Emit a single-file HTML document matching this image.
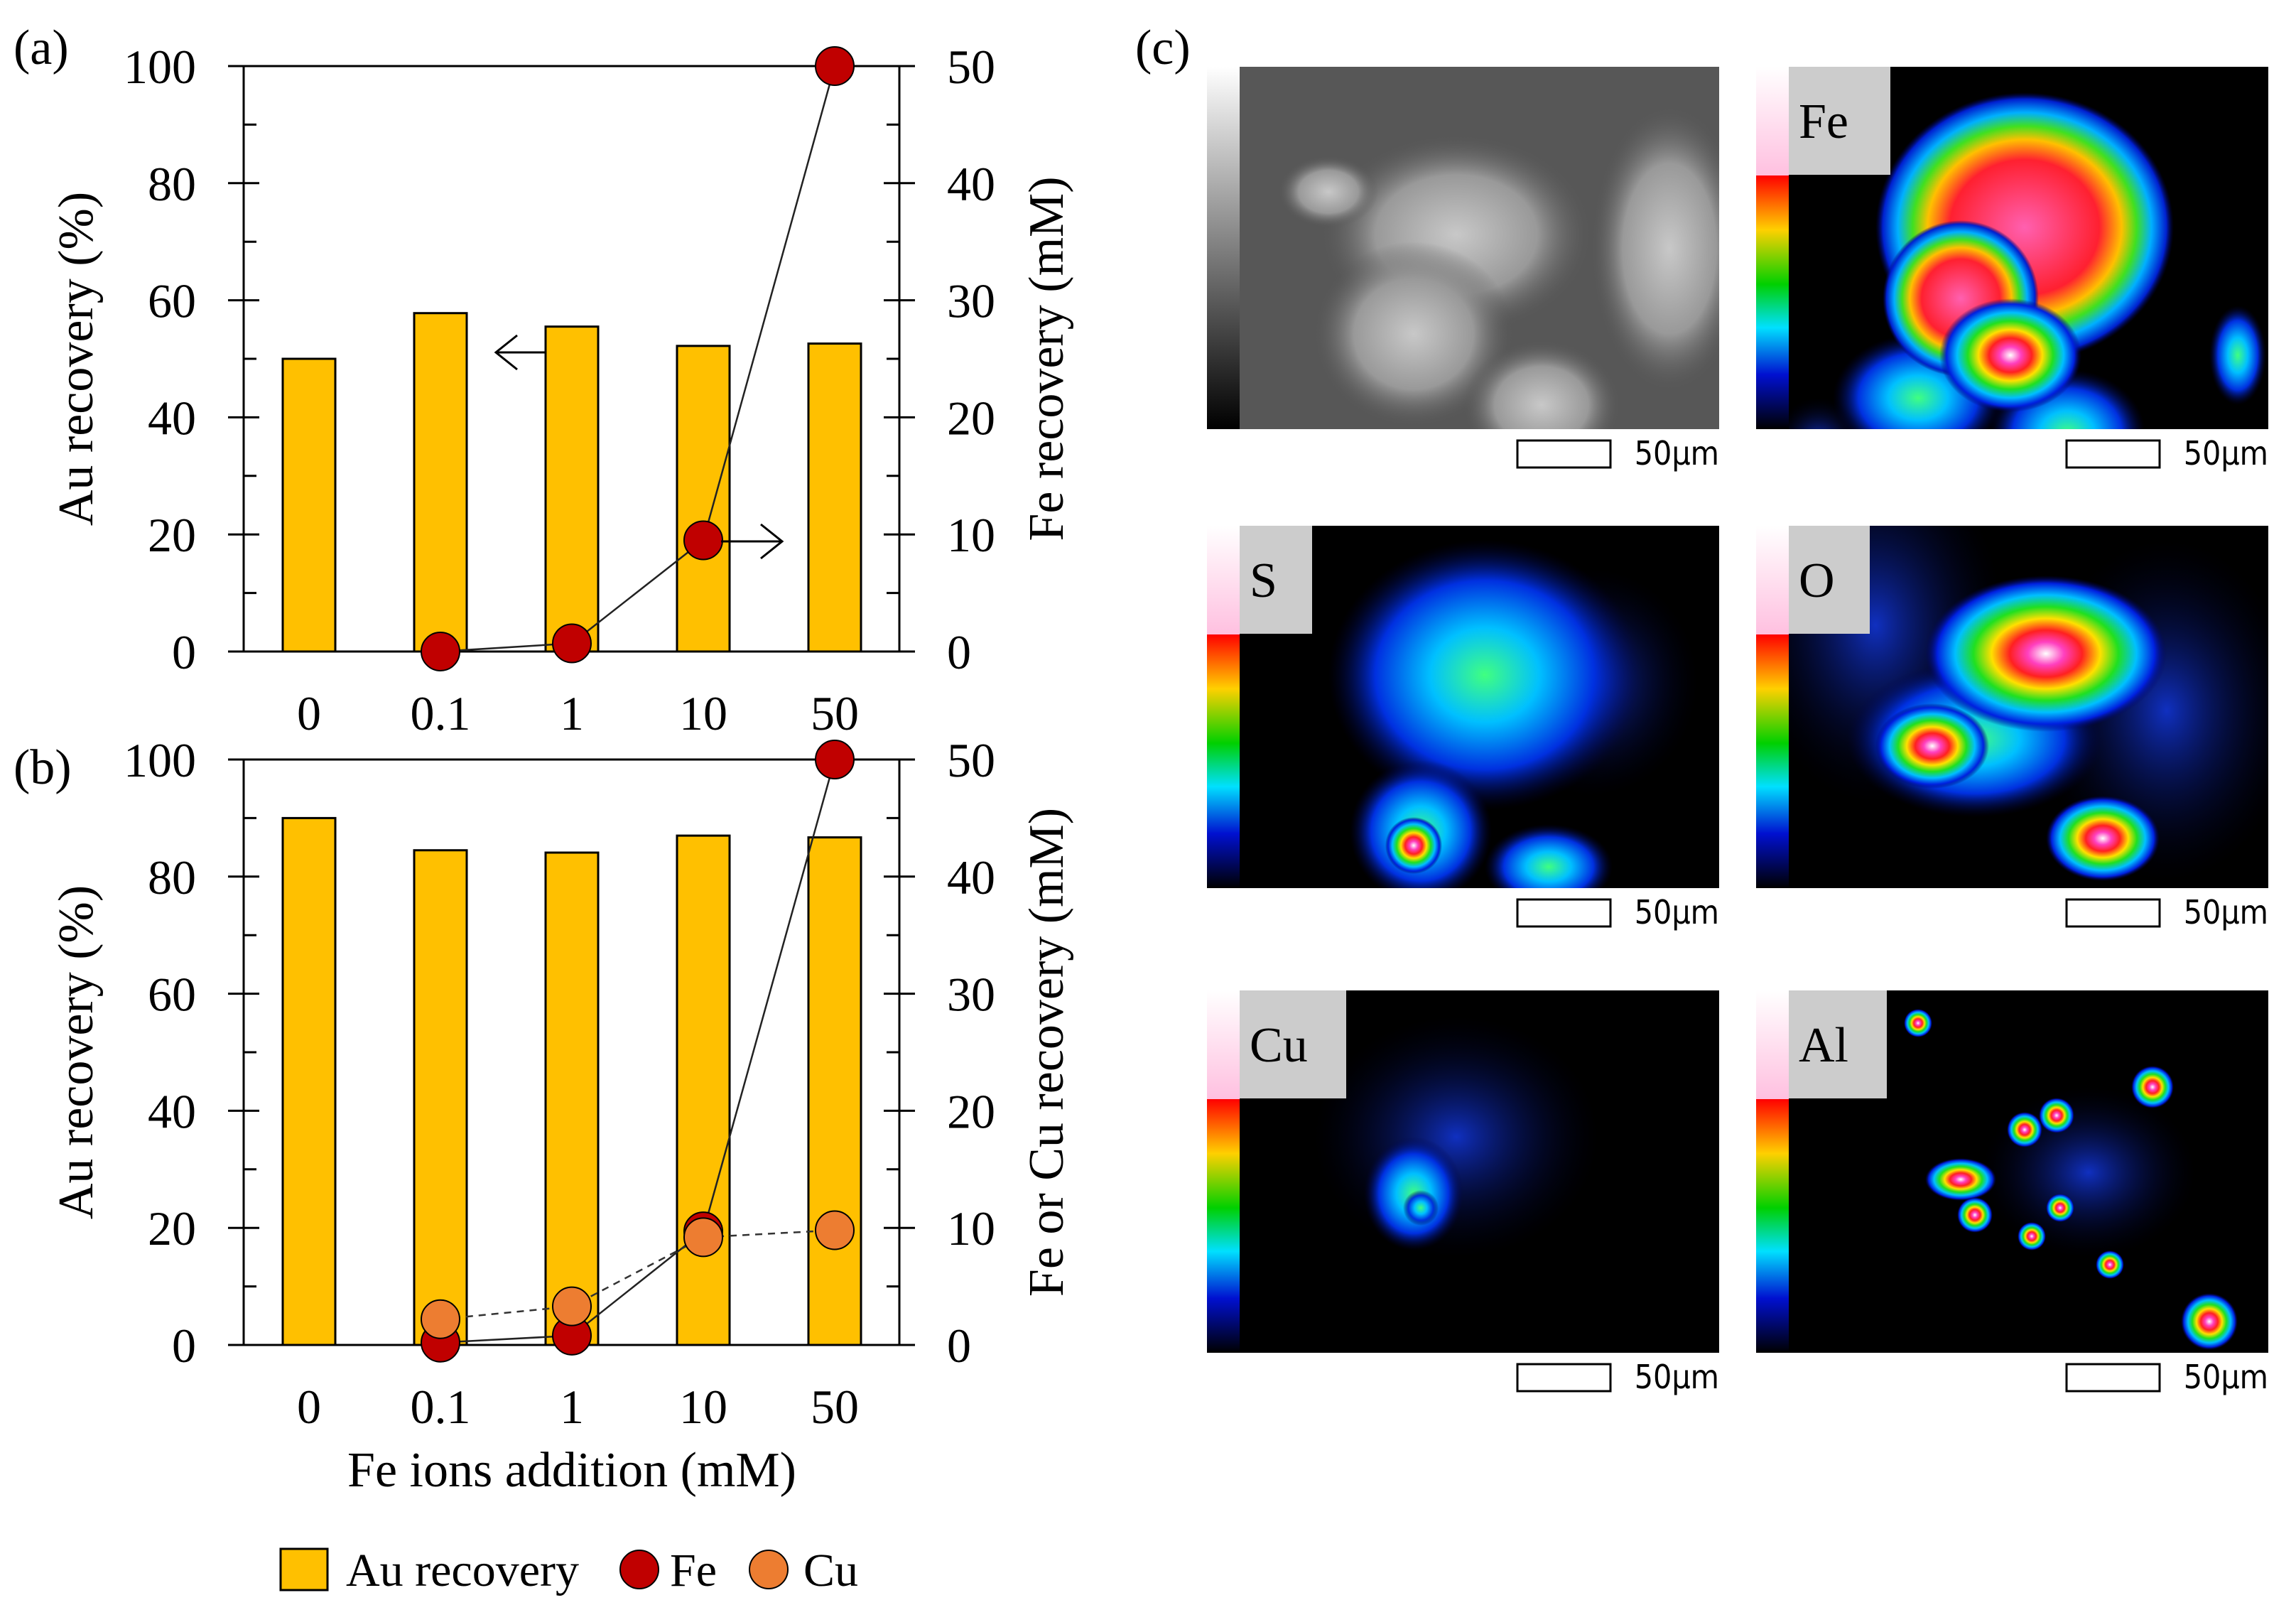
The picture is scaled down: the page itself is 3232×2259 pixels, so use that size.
<!DOCTYPE html>
<html><head><meta charset="utf-8"><style>
html,body{margin:0;padding:0;background:#fff}
#root{position:relative;width:3232px;height:2259px;overflow:hidden;background:#fff}
svg text{font-family:"Liberation Serif",serif}
</style></head><body>
<div id="root">
<svg id="chart" width="3232" height="2259" viewBox="0 0 3232 2259" xmlns="http://www.w3.org/2000/svg">
<defs>
<radialGradient id="jet">
<stop offset="0" stop-color="#ffffff"/><stop offset="0.15" stop-color="#ff40c0"/><stop offset="0.3" stop-color="#ff2020"/><stop offset="0.45" stop-color="#ffe000"/><stop offset="0.6" stop-color="#20e020"/><stop offset="0.75" stop-color="#00c0ff"/><stop offset="0.9" stop-color="#0020e0"/><stop offset="1" stop-color="#000060" stop-opacity="0"/>
</radialGradient>
<radialGradient id="jethot">
<stop offset="0" stop-color="#ff60b0"/><stop offset="0.5" stop-color="#ff2030"/><stop offset="0.65" stop-color="#ffc000"/><stop offset="0.75" stop-color="#40e020"/><stop offset="0.85" stop-color="#00b0ff"/><stop offset="0.95" stop-color="#0020d0"/><stop offset="1" stop-color="#000060" stop-opacity="0"/>
</radialGradient>
<radialGradient id="jetlow">
<stop offset="0" stop-color="#40ff80"/><stop offset="0.35" stop-color="#00c0ff"/><stop offset="0.7" stop-color="#0030e0"/><stop offset="1" stop-color="#000040" stop-opacity="0"/>
</radialGradient>
<radialGradient id="bluehaze">
<stop offset="0" stop-color="#1030c0"/><stop offset="1" stop-color="#000020" stop-opacity="0"/>
</radialGradient>
<radialGradient id="sem">
<stop offset="0" stop-color="#c8c8c8"/><stop offset="0.6" stop-color="#999"/><stop offset="1" stop-color="#5a5a5a" stop-opacity="0"/>
</radialGradient>
<linearGradient id="graybar" x1="0" y1="0" x2="0" y2="1"><stop offset="0" stop-color="#fff"/><stop offset="1" stop-color="#000"/></linearGradient>
<linearGradient id="jetbar" x1="0" y1="0" x2="0" y2="1">
<stop offset="0" stop-color="#fff"/><stop offset="0.3" stop-color="#ffc0e0"/><stop offset="0.3" stop-color="#ff0000"/><stop offset="0.45" stop-color="#ffd000"/><stop offset="0.6" stop-color="#00d000"/><stop offset="0.72" stop-color="#00e0ff"/><stop offset="0.85" stop-color="#0010d0"/><stop offset="1" stop-color="#000"/>
</linearGradient>
</defs>
<g id="panelA"></g>
<g id="panelB"></g>
<g id="legend">
<rect x="395" y="2180" width="66" height="58" fill="#ffc000" stroke="#000" stroke-width="3"/>
<text x="487" y="2232" font-size="66">Au recovery</text>
<circle cx="900" cy="2209" r="27" fill="#c00000" stroke="#000" stroke-width="2"/>
<text x="943" y="2232" font-size="66">Fe</text>
<circle cx="1082" cy="2209" r="27" fill="#ed7d31" stroke="#000" stroke-width="2"/>
<text x="1131" y="2232" font-size="66">Cu</text>
</g>
<text x="19" y="90" font-size="70">(a)</text>
<text x="19" y="1103" font-size="70">(b)</text>
<text x="1598" y="90" font-size="70">(c)</text>
<g id="panelC"></g>
</svg>
</div>
<script>
// ---- data ----
const categories = ["0", "0.1", "1", "10", "50"];
const leftTicks = [0, 20, 40, 60, 80, 100];
const rightTicks = [0, 10, 20, 30, 40, 50];
const auA = [50, 57.8, 55.5, 52.2, 52.6];
const feA = [null, 0, 0.7, 9.5, 50];
const auB = [90, 84.5, 84.1, 87.0, 86.7];
const feB = [null, 0.2, 0.8, 9.7, 50];
const cuB = [null, 2.2, 3.3, 9.2, 9.8];

const NS = "http://www.w3.org/2000/svg";
function mk(parent, tag, attrs, txt) {
  const e = document.createElementNS(NS, tag);
  for (const k in attrs) e.setAttribute(k, attrs[k]);
  if (txt !== undefined) e.textContent = txt;
  parent.appendChild(e);
  return e;
}
const L = 343, R = 1266, x0 = 435;
function xPos(i) { return x0 + i * 185; }

function drawPanel(g, top, bottom, au, fe, cu, rightTitle) {
  const yL = v => bottom - (v / 100) * (bottom - top);
  const yR = v => bottom - (v / 50) * (bottom - top);
  au.forEach((v, i) => {
    const r = mk(g, "rect", {x: xPos(i) - 37, y: yL(v), width: 74, height: bottom - yL(v), fill: "#ffc000", stroke: "#000", "stroke-width": 3});
    
    
  });
  const fr = mk(g, "path", {d: `M${L} ${top}V${bottom}M${R} ${top}V${bottom}M${L - 22} ${top}H${R + 22}M${L - 22} ${bottom}H${R + 22}`, stroke: "#000", "stroke-width": 3, fill: "none"});
  
  
  leftTicks.forEach(v => {
    const y = yL(v);
    const t = mk(g, "line", {x1: L - 22, x2: L + 22, y1: y, y2: y, stroke: "#000", "stroke-width": 3});
    
    
    const lb = mk(g, "text", {x: 276, y: y + 24, "font-size": 68, "text-anchor": "end"}, String(v));
    
    
    if (v < 100) {
      const ym = yL(v + 10);
      mk(g, "line", {x1: L, x2: L + 18, y1: ym, y2: ym, stroke: "#000", "stroke-width": 3});
      mk(g, "line", {x1: R - 18, x2: R, y1: ym, y2: ym, stroke: "#000", "stroke-width": 3});
    }
  });
  rightTicks.forEach(v => {
    const y = yR(v);
    const t = mk(g, "line", {x1: R - 22, x2: R + 22, y1: y, y2: y, stroke: "#000", "stroke-width": 3});
    
    
    const lb = mk(g, "text", {x: 1333, y: y + 24, "font-size": 68}, String(v));
    
    
  });
  categories.forEach((c, i) => {
    const lb = mk(g, "text", {x: xPos(i), y: bottom + 110, "font-size": 68, "text-anchor": "middle"}, c);
    
    
  });
  const midY = (top + bottom) / 2;
  const lt = mk(g, "text", {x: 0, y: 0, "font-size": 70, "text-anchor": "middle", transform: `translate(130 ${midY}) rotate(-90)`}, "Au recovery (%)");
  
  
  const rt = mk(g, "text", {x: 0, y: 0, "font-size": 70, "text-anchor": "middle", transform: `translate(1496 ${midY}) rotate(-90)`}, rightTitle);
  
  
  function series(vals, color, dash, name) {
    const pts = [];
    vals.forEach((v, i) => { if (v !== null) pts.push([xPos(i), yR(v)]); });
    const ln = mk(g, "polyline", {points: pts.map(p => p.join(",")).join(" "), fill: "none", stroke: dash ? "#333" : "#222", "stroke-width": 2.5, "stroke-dasharray": dash ? "10 8" : "none"});
    
    
    pts.forEach(p => {
      const c = mk(g, "circle", {cx: p[0], cy: p[1], r: 27, fill: color, stroke: "#000", "stroke-width": 2});
      
      
    });
  }
  series(fe, "#c00000", false, "fe");
  if (cu) series(cu, "#ed7d31", true, "cu");
}
drawPanel(document.getElementById("panelA"), 93, 917, auA, feA, null, "Fe recovery (mM)");
drawPanel(document.getElementById("panelB"), 1069, 1893, auB, feB, cuB, "Fe or Cu recovery (mM)");
const gb = document.getElementById("panelB");
const xt = mk(gb, "text", {x: 805, y: 2092, "font-size": 70, "text-anchor": "middle"}, "Fe ions addition (mM)");


const ga = document.getElementById("panelA");
const a1 = mk(ga, "path", {d: "M768 496H698M728 472L698 496L728 520", stroke: "#000", "stroke-width": 3, fill: "none"});


const a2 = mk(ga, "path", {d: "M1015 762H1101M1071 738L1101 762L1071 786", stroke: "#000", "stroke-width": 3, fill: "none"});



// ---- panel c maps ----
const gc = document.getElementById("panelC");
const cols = [1699, 2472];
const rows = [94, 740, 1394];
const maps = [
  {name: "sem", label: null, bw: 0},
  {name: "fe", label: "Fe", bw: 143, blobs: [[2700,560,120,90,"jetlow"],[2910,610,110,90,"jetlow"],[3150,500,40,70,"jetlow"],[2560,620,60,60,"bluehaze"],[2850,320,210,190,"jethot"],[2760,420,110,110,"jethot"],[2830,500,100,80,"jet"]]},
  {name: "s", label: "S", bw: 102, blobs: [[2240,960,150,160,"bluehaze"],[2090,950,220,190,"jetlow"],[2000,1170,100,100,"jetlow"],[1990,1190,40,40,"jet"],[2180,1220,90,60,"jetlow"]]},
  {name: "o", label: "O", bw: 114, blobs: [[3050,1000,180,240,"bluehaze"],[2640,880,180,250,"bluehaze"],[2780,1040,180,110,"jetlow"],[2880,920,170,110,"jet"],[2720,1050,80,60,"jet"],[2960,1180,80,60,"jet"]]},
  {name: "cu", label: "Cu", bw: 150, blobs: [[2050,1600,200,170,"bluehaze"],[1990,1680,70,80,"jetlow"],[2000,1700,25,25,"jetlow"]]},
  {name: "al", label: "Al", bw: 138, blobs: [[2940,1650,150,120,"bluehaze"],[3030,1530,30,30,"jet"],[2760,1660,50,30,"jet"],[2850,1590,25,25,"jet"],[2895,1570,25,25,"jet"],[2780,1710,25,25,"jet"],[2860,1740,20,20,"jet"],[2900,1700,20,20,"jet"],[2970,1780,20,20,"jet"],[3110,1860,40,40,"jet"],[2700,1440,20,20,"jet"]]}
];
maps.forEach((m, k) => {
  const cx = cols[k % 2], cy = rows[Math.floor(k / 2)];
  const iw = cx + 46, ih = 510, w = 675;
  const g = mk(gc, "g", {});
  
  
  mk(g, "rect", {x: cx, y: cy, width: 46, height: ih, fill: m.label ? "url(#jetbar)" : "url(#graybar)"});
  mk(g, "rect", {x: iw, y: cy, width: w, height: ih, fill: m.label ? "#000" : "#575757"});
  const clip = "clip" + k;
  const cp = mk(g, "clipPath", {id: clip});
  mk(cp, "rect", {x: iw, y: cy, width: w, height: ih});
  const inner = mk(g, "g", {"clip-path": `url(#${clip})`});
  if (!m.label) {
    [[2050,330,190,140],[1990,470,140,130],[2170,570,110,90],[1870,270,70,50],[2350,350,110,200]].forEach(b => mk(inner, "ellipse", {cx: b[0], cy: b[1], rx: b[2], ry: b[3], fill: "url(#sem)"}));
  } else {
    m.blobs.forEach(b => mk(inner, "ellipse", {cx: b[0], cy: b[1], rx: b[2], ry: b[3], fill: `url(#${b[4]})`}));
    mk(g, "rect", {x: iw, y: cy, width: m.bw, height: 152, fill: "#cccccc"});
    const t = mk(g, "text", {x: iw + 14, y: cy + 100, "font-size": 70}, m.label);
    
    
  }
  const sy = cy + 526;
  const sb = mk(g, "rect", {x: cx + 437, y: sy, width: 131, height: 38, fill: "#fff", stroke: "#000", "stroke-width": 3});
  
  
  const st = mk(g, "text", {x: cx + 721, y: sy + 34, "font-size": 46, "text-anchor": "end", style: 'font-family:"DejaVu Sans Condensed","DejaVu Sans",sans-serif'}, "50μm");
  
  
});
</script>
</body></html>
